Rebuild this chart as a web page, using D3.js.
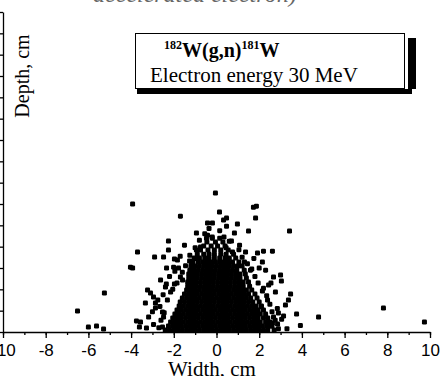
<!DOCTYPE html>
<html>
<head>
<meta charset="utf-8">
<script src="https://cdn.jsdelivr.net/npm/d3@7"></script>
<style>
    body { margin: 0; background: #fff; }
    svg { display: block; }
</style>
</head>
<body>
<svg id="chart" width="443" height="376"></svg>
<script>
// tick labels along the width axis
let xTicks = [-10, -8, -6, -4, -2, 0, 2, 4, 6, 8, 10];

// scattered events around the dense core (width cm, depth cm)
let outerWidth = [-3.93, -0.05, -1.69, 0.14, -0.42, -0.19, 0.33, 0.47, 0.47, 1.73, 1.87, 1.83, 1.50, 3.42,
    -0.42, -0.47, -2.25, -2.25, -1.50, -3.70, -2.90, -2.48, -4.03, -3.93, -5.25, 2.20, 2.62, 1.92,
    -2.34, -2.01, -1.97, -1.83, -1.26, -1.17, -1.69, -1.59, -1.97, 3.00, 3.04, 2.67, 3.47, 3.37,
    3.75, 4.78, 3.93, -3.23, -3.09, -2.95, -2.86, -2.86, -3.18, -3.56, -3.75, -2.53, -2.48, 2.67,
    2.90, 2.62, 2.86, -6.51, -6.00, -5.62, -5.29, -3.61, -3.28, -2.53, 2.53, 9.74, 7.82,
    -0.75, 0.70, 1.08, 1.36, 2.15, 2.30, 2.44, 2.76, 3.23, 3.14, -2.62, -2.39, -2.15, -3.33,
    -1.78, -0.94, 1.31, 1.59, 2.15, 2.39, 0.84, -0.94, 0.98];
let outerDepth = [6.00, 6.51, 5.43, 5.62, 5.11, 5.11, 5.25, 5.34, 4.96, 5.85, 5.90, 5.34, 4.73, 4.73,
    4.54, 4.40, 4.26, 3.84, 4.07, 3.75, 3.51, 3.51, 3.04, 3.00, 1.83, 3.79, 3.79, 3.70,
    3.00, 3.04, 3.42, 3.37, 3.33, 3.23, 2.58, 2.44, 2.25, 2.67, 2.39, 2.58, 1.78, 1.50,
    0.84, 0.70, 0.30, 1.97, 1.83, 1.64, 1.36, 1.12, 0.70, 0.47, 0.52, 0.94, 0.70, 0.70,
    0.89, 0.42, 0.37, 0.98, 0.23, 0.28, 0.14, 0.23, 0.19, 0.23, 0.28, 0.47, 1.12,
    3.98, 4.26, 4.07, 3.75, 3.28, 2.90, 2.20, 1.87, 1.26, 0.75, 2.44, 2.11, 1.87, 1.36,
    3.00, 3.84, 3.28, 2.90, 1.92, 1.50, 4.64, 4.64, 5.06];

// events hugging the edge of the core
let haloWidth = [-2.7, -2.6, -2.45, -2.65, -2.3, -2.5, -2.05, -1.85, -2.2, -1.6, -1.45, -1.7, -1.25, -1.0,
    -2.75, -3.0, -2.95, -2.35, -1.95,
    2.9, 2.75, 2.6, 2.5, 2.35, 2.2, 1.95, 1.8, 1.65, 1.45, 1.2, 1.05, 2.85, 3.05, 2.55, 2.0, 1.75, 3.3, 2.1,
    -0.8, -0.55, -0.2, 0.35, 0.6, 0.45, -0.35, 0.15, 0.75, -0.95];
let haloDepth = [0.2, 0.55, 0.9, 1.2, 1.5, 1.75, 2.0, 2.3, 2.6, 2.8, 3.1, 3.55, 3.6, 3.95,
    1.5, 0.95, 0.35, 2.25, 2.85,
    0.15, 0.55, 0.95, 1.3, 1.7, 2.05, 2.3, 2.6, 2.95, 3.2, 3.5, 3.85, 1.1, 0.6, 2.3, 3.0, 3.45, 0.15, 1.2,
    4.3, 4.6, 4.45, 4.45, 4.25, 3.95, 4.85, 4.75, 3.75, 3.45];

// dense core: depth of each row and the widths of the events in it
let coreDepth = [0.09, 0.28, 0.47, 0.66, 0.84, 1.03, 1.22, 1.41, 1.59, 1.78, 1.97, 2.15,
    2.34, 2.53, 2.72, 2.90, 3.09, 3.28, 3.47, 3.65, 3.84, 4.03, 4.22, 4.40];
let coreWidth = [
    [-2.4, -2.2, -2.0, -1.8, -1.6, -1.4, -1.2, -1.0, -0.8, -0.6, -0.4, -0.2, 0, 0.2, 0.4, 0.6, 0.8, 1.0, 1.2, 1.4, 1.6, 1.8, 2.0, 2.2, 2.4, 2.7],
    [-2.25, -2.05, -1.85, -1.65, -1.45, -1.25, -1.05, -0.85, -0.65, -0.45, -0.25, -0.05, 0.15, 0.35, 0.55, 0.75, 0.95, 1.15, 1.35, 1.55, 1.75, 1.95, 2.15, 2.35, 2.6],
    [-2.15, -1.95, -1.75, -1.55, -1.35, -1.15, -0.95, -0.75, -0.55, -0.35, -0.15, 0.05, 0.25, 0.45, 0.65, 0.85, 1.05, 1.25, 1.45, 1.65, 1.85, 2.05, 2.3, 2.5],
    [-2.05, -1.85, -1.65, -1.45, -1.25, -1.05, -0.85, -0.65, -0.45, -0.25, -0.05, 0.15, 0.35, 0.55, 0.75, 0.95, 1.15, 1.35, 1.55, 1.75, 1.95, 2.2, 2.4],
    [-1.95, -1.75, -1.55, -1.35, -1.15, -0.95, -0.75, -0.55, -0.35, -0.15, 0.05, 0.25, 0.45, 0.65, 0.85, 1.05, 1.25, 1.45, 1.65, 1.85, 2.05, 2.3],
    [-1.85, -1.65, -1.45, -1.25, -1.05, -0.85, -0.65, -0.45, -0.25, -0.05, 0.15, 0.35, 0.55, 0.75, 0.95, 1.15, 1.35, 1.55, 1.75, 1.95, 2.2],
    [-1.75, -1.55, -1.35, -1.15, -0.95, -0.75, -0.55, -0.35, -0.15, 0.05, 0.25, 0.45, 0.65, 0.85, 1.05, 1.25, 1.45, 1.65, 1.85, 2.1],
    [-1.7, -1.5, -1.3, -1.1, -0.9, -0.7, -0.5, -0.3, -0.1, 0.1, 0.3, 0.5, 0.7, 0.9, 1.1, 1.3, 1.5, 1.7, 2.0],
    [-1.6, -1.4, -1.2, -1.0, -0.8, -0.6, -0.4, -0.2, 0, 0.2, 0.4, 0.6, 0.8, 1.0, 1.2, 1.4, 1.6, 1.9],
    [-1.5, -1.3, -1.1, -0.9, -0.7, -0.5, -0.3, -0.1, 0.1, 0.3, 0.5, 0.7, 0.9, 1.1, 1.3, 1.5, 1.8],
    [-1.4, -1.2, -1.0, -0.8, -0.6, -0.4, -0.2, 0, 0.2, 0.4, 0.6, 0.8, 1.0, 1.2, 1.4, 1.65],
    [-1.35, -1.15, -0.95, -0.75, -0.55, -0.35, -0.15, 0.05, 0.25, 0.45, 0.65, 0.85, 1.05, 1.25, 1.55],
    [-1.35, -1.15, -0.95, -0.75, -0.55, -0.35, -0.15, 0.05, 0.25, 0.45, 0.65, 0.85, 1.05, 1.25, 1.5],
    [-1.3, -1.1, -0.9, -0.7, -0.5, -0.3, -0.1, 0.1, 0.3, 0.5, 0.7, 0.9, 1.1, 1.4],
    [-1.3, -1.1, -0.9, -0.7, -0.5, -0.3, -0.1, 0.1, 0.3, 0.5, 0.7, 0.9, 1.1, 1.35],
    [-1.25, -1.05, -0.85, -0.65, -0.45, -0.25, -0.05, 0.15, 0.35, 0.55, 0.75, 0.95, 1.3],
    [-1.2, -1.0, -0.8, -0.6, -0.4, -0.2, 0, 0.2, 0.4, 0.6, 0.8, 1.0, 1.2],
    [-1.1, -0.85, -0.65, -0.45, -0.25, -0.05, 0.15, 0.35, 0.55, 0.75, 1.05],
    [-1.05, -0.8, -0.55, -0.35, -0.1, 0.15, 0.4, 0.6, 0.9],
    [-0.9, -0.6, -0.35, -0.1, 0.2, 0.45, 0.8],
    [-0.75, -0.4, -0.1, 0.2, 0.55],
    [-0.6, -0.25, 0.05, 0.4],
    [-0.45, -0.05, 0.3],
    [-0.2, 0.15]
];

class ScatterPlot {
    constructor() {
        this.svg = d3.select('#chart');
        this.left = 3;
        this.right = 430;
        this.top = 12;
        this.bottom = 332;
        this.dot = 5;

        this.scaleX = d3.scaleLinear()
            .domain([-10, 10])
            .range([this.left, this.right]);
        this.scaleY = d3.scaleLinear()
            .domain([0, 15])
            .range([this.bottom, this.top]);

        this.points = [];
        for (let i = 0; i < outerWidth.length; i++) {
            this.points.push({x: outerWidth[i], y: outerDepth[i]});
        }
        for (let i = 0; i < haloWidth.length; i++) {
            this.points.push({x: haloWidth[i], y: haloDepth[i]});
        }
        for (let r = 0; r < coreDepth.length; r++) {
            for (let j = 0; j < coreWidth[r].length; j++) {
                this.points.push({x: coreWidth[r][j], y: coreDepth[r]});
            }
        }
    }

    drawTitle() {
        // only the lower edge of the caption fits in the frame
        this.svg.append('text')
            .attr('x', 93)
            .attr('y', 2)
            .attr('font-family', 'Liberation Serif')
            .attr('font-style', 'italic')
            .attr('font-size', 24)
            .attr('fill', '#666')
            .text('accelerated electron)');
    }

    drawAxes() {
        let xMinor = d3.axisBottom(this.scaleX)
            .ticks(20)
            .tickSize(3)
            .tickFormat('');
        this.svg.append('g')
            .attr('transform', `translate(0,${this.bottom})`)
            .call(xMinor)
            .call(g => g.select('.domain').remove());

        let xAxis = d3.axisBottom(this.scaleX)
            .tickValues(xTicks)
            .tickSize(6)
            .tickPadding(6)
            .tickSizeOuter(0)
            .tickFormat(d3.format('d'));
        let gx = this.svg.append('g')
            .attr('transform', `translate(0,${this.bottom})`)
            .call(xAxis);
        gx.selectAll('text')
            .attr('font-family', 'Liberation Sans')
            .attr('font-size', 17)
            .attr('fill', '#000')
            .text(d => d < 0 ? '-' + Math.abs(d) : d);

        let yAxis = d3.axisLeft(this.scaleY)
            .ticks(15)
            .tickSize(4)
            .tickSizeOuter(0)
            .tickFormat('');
        this.svg.append('g')
            .attr('transform', `translate(${this.left},0)`)
            .call(yAxis);

        this.svg.selectAll('.domain, .tick line')
            .attr('stroke', '#000')
            .attr('stroke-width', 1.3);

        this.svg.append('text')
            .attr('x', 212)
            .attr('y', 376)
            .attr('text-anchor', 'middle')
            .attr('font-family', 'Liberation Serif')
            .attr('font-size', 21)
            .text('Width, cm');

        this.svg.append('text')
            .attr('transform', 'translate(29,76) rotate(-90)')
            .attr('text-anchor', 'middle')
            .attr('font-family', 'Liberation Serif')
            .attr('font-size', 20)
            .text('Depth, cm');
    }

    drawPoints() {
        this.svg.append('g')
            .selectAll('rect')
            .data(this.points)
            .join('rect')
            .attr('x', d => this.scaleX(d.x) - this.dot / 2)
            .attr('y', d => this.scaleY(d.y) - this.dot / 2)
            .attr('width', this.dot)
            .attr('height', this.dot)
            .attr('rx', 1.3)
            .attr('fill', '#000');
    }

    drawLegend() {
        let g = this.svg.append('g');
        // drop shadow: bar on the right and strip underneath
        g.append('rect').attr('x', 408).attr('y', 38).attr('width', 8).attr('height', 51).attr('fill', '#000');
        g.append('rect').attr('x', 137).attr('y', 89).attr('width', 275).attr('height', 5).attr('fill', '#000');
        g.append('rect')
            .attr('x', 135.5).attr('y', 33.5)
            .attr('width', 269).attr('height', 55)
            .attr('fill', '#fff')
            .attr('stroke', '#000')
            .attr('stroke-width', 1);

        let title = g.append('text')
            .attr('x', 164)
            .attr('y', 57)
            .attr('font-family', 'Liberation Serif')
            .attr('font-weight', 'bold')
            .attr('font-size', 20);
        title.append('tspan').attr('font-size', 12).attr('dy', -8).text('182');
        title.append('tspan').attr('dy', 8).text('W(g,n)');
        title.append('tspan').attr('font-size', 12).attr('dy', -8).text('181');
        title.append('tspan').attr('dy', 8).text('W');

        g.append('text')
            .attr('x', 150)
            .attr('y', 82)
            .attr('font-family', 'Liberation Serif')
            .attr('font-size', 21)
            .text('Electron energy 30 MeV');
    }
}

let plot = new ScatterPlot();
plot.drawTitle();
plot.drawAxes();
plot.drawPoints();
plot.drawLegend();
</script>
</body>
</html>
